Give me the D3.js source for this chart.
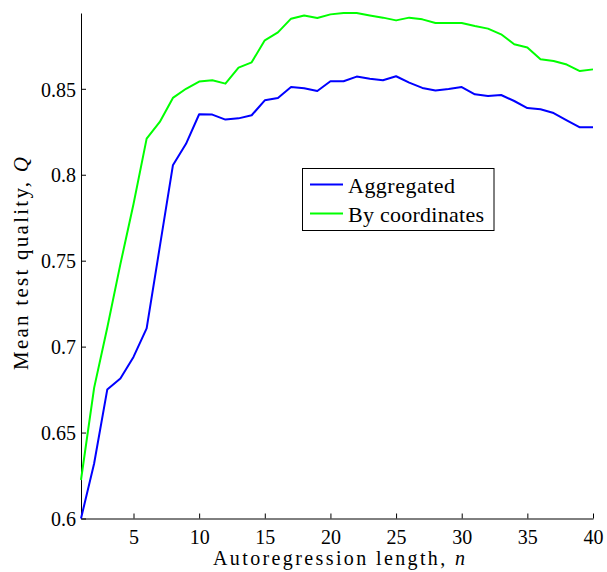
<!DOCTYPE html>
<html>
<head>
<meta charset="utf-8">
<script src="https://cdn.jsdelivr.net/npm/d3@7"></script>
<style>
  html, body { margin: 0; padding: 0; background: #fff; }
  svg { display: block; }
  svg text { font-family: 'Liberation Serif', 'DejaVu Serif', 'Noto Serif', serif; }
</style>
</head>
<body>
<svg id="chart" width="607" height="572"></svg>
<script>
// ---- data ----
const lags = d3.range(1, 41);
const aggregated = [0.600, 0.632, 0.675, 0.6815, 0.694, 0.7106, 0.758, 0.8055, 0.818, 0.8352,
  0.835, 0.8321, 0.8328, 0.8346, 0.8433, 0.8447, 0.851, 0.8503, 0.8487, 0.8544,
  0.8544, 0.8571, 0.8559, 0.855, 0.8573, 0.8536, 0.8505, 0.849, 0.8499, 0.851,
  0.8468, 0.8458, 0.8464, 0.8429, 0.8388, 0.8381, 0.8359, 0.8317, 0.8276, 0.8276];
const byCoordinates = [0.6224, 0.676, 0.711, 0.748, 0.783, 0.821, 0.8307, 0.8447, 0.850, 0.8542,
  0.855, 0.853, 0.8623, 0.8654, 0.8782, 0.8828, 0.8908, 0.8927, 0.8912, 0.8933,
  0.8941, 0.8941, 0.8927, 0.8914, 0.8898, 0.8914, 0.8904, 0.8883, 0.8883, 0.8883,
  0.8865, 0.885, 0.8817, 0.8759, 0.874, 0.8672, 0.8662, 0.8641, 0.8603, 0.8613];
const xTicks = [5, 10, 15, 20, 25, 30, 35, 40];
const yTicks = [0.6, 0.65, 0.7, 0.75, 0.8, 0.85];
const seriesNames = ["Aggregated", "By coordinates"];
const seriesColors = ["#0000ff", "#00ff00"];

// ---- layout ----
const FONT = "'Liberation Serif', 'DejaVu Serif', 'Noto Serif', serif";
const svg = d3.select("#chart").attr("font-family", FONT);
const plotL = 81, plotR = 593, plotT = 13, plotB = 518.5;

const x = d3.scaleLinear().domain([1, 40]).range([plotL, plotR]);
const yMin = d3.min(aggregated.concat(byCoordinates));
const yMax = d3.max(aggregated.concat(byCoordinates));
const y = d3.scaleLinear().domain([yMin, yMax]).range([plotB, plotT]);

// axes
const xAxis = d3.axisBottom(x).tickValues(xTicks).tickSizeInner(-5).tickSizeOuter(0).tickPadding(11)
  .tickFormat(d3.format("d"));
const gx = svg.append("g").attr("transform", `translate(0,${plotB})`).call(xAxis)
  .attr("font-family", FONT).attr("font-size", 20);

const yAxis = d3.axisLeft(y).tickValues(yTicks).tickSizeInner(-5).tickSizeOuter(0).tickPadding(5)
  .tickFormat(d => String(+d.toFixed(2)));
const gy = svg.append("g").attr("transform", `translate(${plotL},0)`).call(yAxis)
  .attr("font-family", FONT).attr("font-size", 20);
gy.selectAll("text").attr("dy", "0.36em");

svg.selectAll(".domain, .tick line").attr("stroke", "#000").attr("stroke-width", 1);
svg.selectAll(".tick text").attr("fill", "#000");

// lines
const seriesData = [aggregated, byCoordinates];
const line = d3.line().x((d, i) => x(lags[i])).y(d => y(d));
seriesData.forEach((s, k) => {
  svg.append("path").datum(s)
    .attr("fill", "none")
    .attr("stroke", seriesColors[k])
    .attr("stroke-width", 2)
    .attr("stroke-linejoin", "round")
    .attr("d", line);
});

// axis labels
const xl = svg.append("text")
  .attr("x", 213).attr("y", 565)
  .attr("text-anchor", "start")
  .attr("font-size", 20)
  .attr("textLength", 252).attr("lengthAdjust", "spacing");
xl.append("tspan").text("Autoregression length, ");
xl.append("tspan").attr("font-style", "italic").text("n");

const yl = svg.append("text")
  .attr("transform", "translate(28,370) rotate(-90)")
  .attr("text-anchor", "start")
  .attr("font-size", 21)
  .attr("textLength", 213).attr("lengthAdjust", "spacing");
yl.append("tspan").text("Mean test quality, ");
yl.append("tspan").attr("font-style", "italic").text("Q");

// legend
const lg = svg.append("g");
lg.append("rect").attr("x", 302.5).attr("y", 168.5).attr("width", 191.5).attr("height", 62)
  .attr("fill", "#fff").attr("stroke", "#000").attr("stroke-width", 1);
const legendY = [184.5, 213.5];
const legendLen = [107, 136];
seriesNames.forEach((name, k) => {
  lg.append("line").attr("x1", 310).attr("x2", 343).attr("y1", legendY[k]).attr("y2", legendY[k])
    .attr("stroke", seriesColors[k]).attr("stroke-width", 2);
  lg.append("text").attr("x", 348).attr("y", legendY[k] + 8)
    .attr("font-size", 22)
    .attr("textLength", legendLen[k]).attr("lengthAdjust", "spacing")
    .text(name);
});
</script>
</body>
</html>
